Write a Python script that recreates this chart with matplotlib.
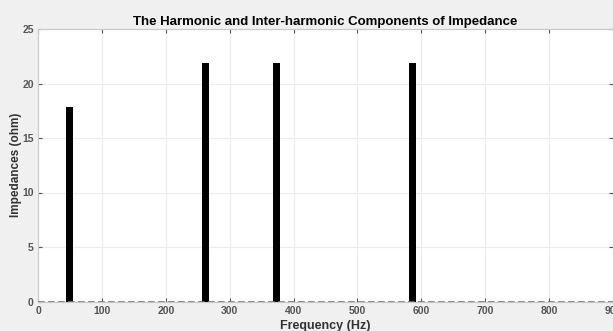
import matplotlib
matplotlib.use("Agg")
import matplotlib.pyplot as plt

# impedance spectrum: harmonic and inter-harmonic lines
freqs = [50, 262, 374, 586]
impedances = [17.8, 21.9, 21.9, 21.9]
xticks = [0, 100, 200, 300, 400, 500, 600, 700, 800, 900]
yticks = [0, 5, 10, 15, 20, 25]

plt.rcParams["font.family"] = "Liberation Sans"
plt.rcParams["font.weight"] = "bold"

fig = plt.figure(figsize=(6.13, 3.31), dpi=100, facecolor="#f0f0f0")
ax = fig.add_axes([38 / 613, 29.5 / 331, 575 / 613, 272.5 / 331])

ax.bar(freqs, impedances, width=11, color="black", zorder=3)
ax.axhline(0, color="#777777", linestyle="--", linewidth=1.2, dashes=(4, 2), zorder=4)

ax.set_xlim(0, 900)
ax.set_ylim(0, 25)
ax.set_xticks(xticks)
ax.set_yticks(yticks)
ax.grid(True, color="#ececec", linewidth=0.8, zorder=0)
ax.tick_params(direction="in", length=3, labelsize=7.5, colors="#555555",
               top=True, right=True, pad=3)
for s in ax.spines.values():
    s.set_color("#c8c8c8")

ax.set_title("The Harmonic and Inter-harmonic Components of Impedance",
             fontsize=9.5, fontweight="bold", pad=3)
ax.set_xlabel("Frequency (Hz)", fontsize=9, fontweight="bold", color="#333333", labelpad=3)
ax.set_ylabel("Impedances (ohm)", fontsize=8.5, fontweight="bold", color="#333333", labelpad=0)

fig.savefig("out.png", dpi=100, facecolor=fig.get_facecolor())
